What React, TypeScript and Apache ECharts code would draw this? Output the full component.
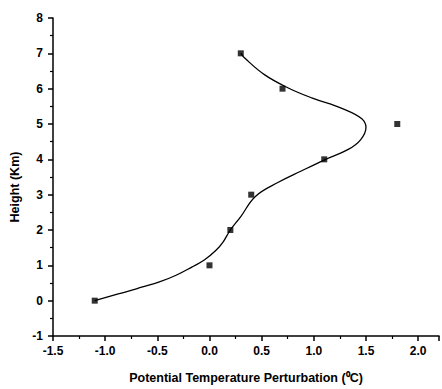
import React, { useEffect, useRef } from "react";
import * as echarts from "echarts";

const obsX = [-1.1, 0.0, 0.2, 0.4, 1.1, 1.8, 0.7, 0.3];
const obsY = [0, 1, 2, 3, 4, 5, 6, 7];

const fitX = [-1.1, -0.95, -0.8, -0.65, -0.48, -0.32, -0.17, -0.05, 0.06, 0.13, 0.2, 0.3, 0.44, 0.66, 0.88, 1.1, 1.33, 1.45, 1.5, 1.46, 1.28, 0.98, 0.755, 0.53, 0.34, 0.3];
const fitY = [0, 0.13, 0.25, 0.38, 0.53, 0.72, 0.95, 1.15, 1.42, 1.66, 2.0, 2.38, 2.95, 3.35, 3.67, 3.98, 4.28, 4.56, 4.9, 5.15, 5.43, 5.74, 6.02, 6.39, 6.86, 7.0];

const xTickLabels = ["-1.5", "-1.0", "-0.5", "0.0", "0.5", "1.0", "1.5", "2.0"];
const yTickLabels = ["-1", "0", "1", "2", "3", "4", "5", "6", "7", "8"];

const xTitle = "Potential Temperature Perturbation (\u2070C)";
const yTitle = "Height (Km)";

export default function App() {
  const ref = useRef<HTMLDivElement>(null);
  useEffect(() => {
    if (!ref.current) return;
    const chart = echarts.init(ref.current, null, { renderer: "svg" });
    const font = "Liberation Sans, Arial, sans-serif";
    chart.setOption({
      animation: false,
      backgroundColor: "#ffffff",
      grid: { left: 53, right: 0, top: 18, bottom: 51 },
      xAxis: {
        type: "value",
        min: -1.5,
        max: 2.2,
        interval: 0.5,
        axisLine: { onZero: false, lineStyle: { color: "#000", width: 1.5 } },
        axisTick: { length: 5, lineStyle: { color: "#000", width: 1.5 } },
        minorTick: { show: true, splitNumber: 2, length: 3, lineStyle: { color: "#000", width: 1.2 } },
        splitLine: { show: false },
        axisLabel: {
          color: "#000",
          fontFamily: font,
          fontWeight: "bold",
          fontSize: 12,
          margin: 9,
          formatter: (v: number) => {
            const idx = xTickLabels.indexOf(v.toFixed(1));
            return idx >= 0 && Math.abs(v * 2 - Math.round(v * 2)) < 1e-6 ? xTickLabels[idx] : "";
          },
        },
        name: xTitle,
        nameLocation: "middle",
        nameGap: 35,
        nameTextStyle: { color: "#000", fontFamily: font, fontSize: 12.5, fontWeight: "bold" },
      },
      yAxis: {
        type: "value",
        min: -1,
        max: 8,
        interval: 1,
        axisLine: { onZero: false, lineStyle: { color: "#000", width: 1.5 } },
        axisTick: { length: 5, lineStyle: { color: "#000", width: 1.5 } },
        minorTick: { show: true, splitNumber: 2, length: 3, lineStyle: { color: "#000", width: 1.2 } },
        splitLine: { show: false },
        axisLabel: {
          color: "#000",
          fontFamily: font,
          fontWeight: "bold",
          fontSize: 12,
          margin: 10,
          formatter: (v: number) => {
            const s = String(Math.round(v));
            return yTickLabels.includes(s) ? s : "";
          },
        },
      },
      graphic: [
        {
          type: "text",
          x: 15,
          y: 187,
          rotation: Math.PI / 2,
          style: {
            text: yTitle,
            fill: "#000",
            font: `bold 12.5px ${font}`,
            align: "center",
            verticalAlign: "middle",
          },
        },
      ],
      series: [
        {
          type: "line",
          data: fitX.map((x, i) => [x, fitY[i]]),
          smooth: 0.4,
          showSymbol: false,
          lineStyle: { color: "#000", width: 1.3 },
          z: 2,
        },
        {
          type: "scatter",
          data: obsX.map((x, i) => [x, obsY[i]]),
          symbol: "rect",
          symbolSize: 6,
          itemStyle: { color: "#000" },
          z: 3,
        },
      ],
    });
    return () => chart.dispose();
  }, []);
  return <div ref={ref} style={{ width: 442, height: 389, position: "absolute", left: 0, top: 0 }} />;
}
